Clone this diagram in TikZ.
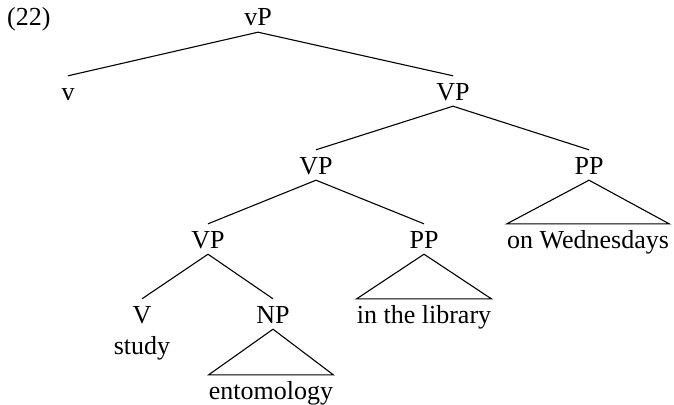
\documentclass[tikz,border=0pt]{standalone}
\usepackage{fontspec}
\setmainfont{Liberation Serif}
\usetikzlibrary{positioning}
\tikzset{cat/.style={font=\fontsize{26}{30}\selectfont,inner xsep=0pt,inner ysep=6pt,text height=18pt,text depth=0pt,anchor=base}}
\tikzset{branch/.style={line width=1.1pt}}

\begin{document}
\begin{tikzpicture}[x=1pt,y=-1pt]
\useasboundingbox (0,0) rectangle (674,404);
% \draw[help lines] (0,0) grid (674,404);
\node (ex) [cat,anchor=base west] at (7,26) {(22)};
\node (vP) [cat] at (258,26) {vP};
\node (v) [cat] at (68,100) {v};
\node (VPa) [cat] at (453,100) {VP};
\node (VPb) [cat] at (316,174) {VP};
\node (PPa) [cat] at (589,174) {PP};
\node (VPc) [cat] at (208,248) {VP};
\node (PPb) [cat] at (424,248) {PP};
\node (wed) [cat] at (588,248) {on Wednesdays};
\node (V) [cat] at (142,323) {V};
\node (study) [cat,below=1pt of V] {study};
\node (NP) [cat] at (273,323) {NP};
\node (lib) [cat] at (424,323) {in the library};
\node (ento) [cat] at (271,399) {entomology};
%
\path[branch] (vP.south) edge (v.north) edge (VPa.north);
\path[branch] (VPa.south) edge (VPb.north) edge (PPa.north);
\path[branch] (VPb.south) edge (VPc.north) edge (PPb.north);
\path[branch] (VPc.south) edge (V.north) edge (NP.north);
\draw[branch] (PPa.south) -- (wed.north west) -- (wed.north east) -- cycle;
\draw[branch] (PPb.south) -- (lib.north west) -- (lib.north east) -- cycle;
\draw[branch] (NP.south) -- (ento.north west) -- (ento.north east) -- cycle;
\end{tikzpicture}
\end{document}
